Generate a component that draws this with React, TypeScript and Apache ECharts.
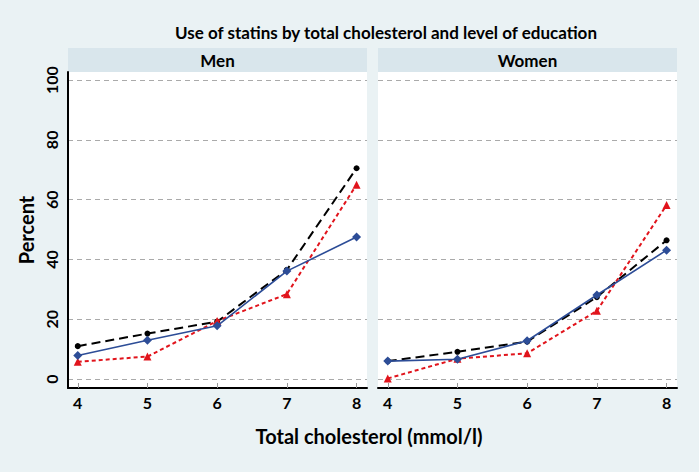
import React, { useEffect, useRef } from "react";
import * as echarts from "echarts";

const cholesterol = [4, 5, 6, 7, 8];
const panels = ["Men", "Women"];
const yTicks = [0, 20, 40, 60, 80, 100];

// Men
const menBlack = [11.0, 15.2, 19.2, 36.5, 70.5];
const menBlue = [7.9, 13.0, 17.8, 36.1, 47.5];
const menRed = [5.8, 7.5, 19.4, 28.4, 65.0];
// Women
const womenBlack = [6.0, 9.1, 12.5, 27.4, 46.4];
const womenBlue = [6.0, 6.6, 12.8, 28.1, 43.1];
const womenRed = [0.2, 6.8, 8.6, 22.8, 58.2];

const FONT = "Lato, 'Open Sans', sans-serif";
const BLACK = "#000000";
const BLUE = "#2d4d97";
const RED = "#e1141c";

const pairs = (vals: number[]) => cholesterol.map((x, i) => [x, vals[i]]);

export default function App() {
  const ref = useRef<HTMLDivElement>(null);
  useEffect(() => {
    if (!ref.current) return;
    const chart = echarts.init(ref.current, undefined, { renderer: "svg" });

    const grids = [
      { left: 68, top: 72, width: 299, height: 316 },
      { left: 378, top: 72, width: 299, height: 316 },
    ];

    const xAxes = grids.map((_, i) => ({
      type: "value",
      gridIndex: i,
      min: 3.86,
      max: 8.15,
      axisLabel: {
        customValues: cholesterol,
        color: "#000",
        fontWeight: "bold",
        fontSize: 16,
        fontFamily: FONT,
        margin: 6,
      },
      axisTick: {
        customValues: cholesterol,
        inside: true,
        length: 5,
        lineStyle: { color: "#999", width: 1 },
      },
      axisLine: { show: true, onZero: false, lineStyle: { color: "#000", width: 2 } },
      splitLine: { show: false },
    }));

    const yAxes = grids.map((_, i) => ({
      type: "value",
      gridIndex: i,
      min: -3,
      max: 102.7,
      name: i === 0 ? "Percent" : "",
      nameLocation: "middle",
      nameRotate: 90,
      nameGap: 32,
      nameTextStyle: { color: "#000", fontWeight: "bold", fontSize: 20, fontFamily: FONT },
      axisLabel: {
        show: i === 0,
        customValues: yTicks,
        rotate: 90,
        color: "#000",
        fontWeight: "bold",
        fontSize: 16,
        fontFamily: FONT,
        margin: 9,
      },
      axisTick: { show: false, customValues: yTicks },
      axisLine: { show: i === 0, onZero: false, lineStyle: { color: "#000", width: 2 } },
      splitLine: { show: true, lineStyle: { color: "#aaaaaa", type: [5, 4], width: 1 } },
    }));

    const mk = (vals: number[], idx: number, kind: "black" | "blue" | "red") => {
      const base: any = {
        type: "line",
        xAxisIndex: idx,
        yAxisIndex: idx,
        data: pairs(vals),
        showAllSymbol: true,
        z: kind === "blue" ? 4 : kind === "red" ? 3 : 2,
      };
      if (kind === "black") {
        return {
          ...base,
          symbol: "circle",
          symbolSize: 6,
          itemStyle: { color: BLACK },
          lineStyle: { color: BLACK, width: 2, type: [9, 5] },
        };
      }
      if (kind === "blue") {
        return {
          ...base,
          symbol: "diamond",
          symbolSize: 9,
          itemStyle: { color: BLUE },
          lineStyle: { color: BLUE, width: 1.6, type: "solid" },
        };
      }
      return {
        ...base,
        symbol: "triangle",
        symbolSize: 8,
        itemStyle: { color: RED },
        lineStyle: { color: RED, width: 2, type: [4, 3] },
      };
    };

    const graphic: any[] = [];
    grids.forEach((g, i) => {
      graphic.push({
        type: "rect",
        shape: { x: g.left, y: 48, width: g.width, height: 24 },
        style: { fill: "#d9e6ec" },
        silent: true,
      });
      graphic.push({
        type: "rect",
        shape: { x: g.left, y: 72, width: g.width, height: 317 },
        style: { fill: "#ffffff" },
        silent: true,
        z: -10,
      });
      graphic.push({
        type: "text",
        x: g.left + g.width / 2,
        y: 60,
        style: {
          text: panels[i],
          fill: "#000",
          font: `bold 17px ${FONT}`,
          textAlign: "center",
          textVerticalAlign: "middle",
        },
        silent: true,
      });
    });
    graphic.push({
      type: "text",
      x: 386,
      y: 32,
      style: {
        text: "Use of statins by total cholesterol and level of education",
        fill: "#000",
        font: `bold 17px ${FONT}`,
        textAlign: "center",
        textVerticalAlign: "middle",
      },
      silent: true,
    });
    graphic.push({
      type: "text",
      x: 369,
      y: 436,
      style: {
        text: "Total cholesterol (mmol/l)",
        fill: "#000",
        font: `bold 20px ${FONT}`,
        textAlign: "center",
        textVerticalAlign: "middle",
      },
      silent: true,
    });

    chart.setOption({
      animation: false,
      backgroundColor: "#eaf2f4",
      grid: grids,
      xAxis: xAxes,
      yAxis: yAxes,
      graphic,
      series: [
        mk(menBlack, 0, "black"),
        mk(menRed, 0, "red"),
        mk(menBlue, 0, "blue"),
        mk(womenBlack, 1, "black"),
        mk(womenRed, 1, "red"),
        mk(womenBlue, 1, "blue"),
      ],
    });
    return () => chart.dispose();
  }, []);
  return (
    <div
      ref={ref}
      style={{ position: "absolute", left: 0, top: 0, width: 699, height: 472 }}
    />
  );
}
